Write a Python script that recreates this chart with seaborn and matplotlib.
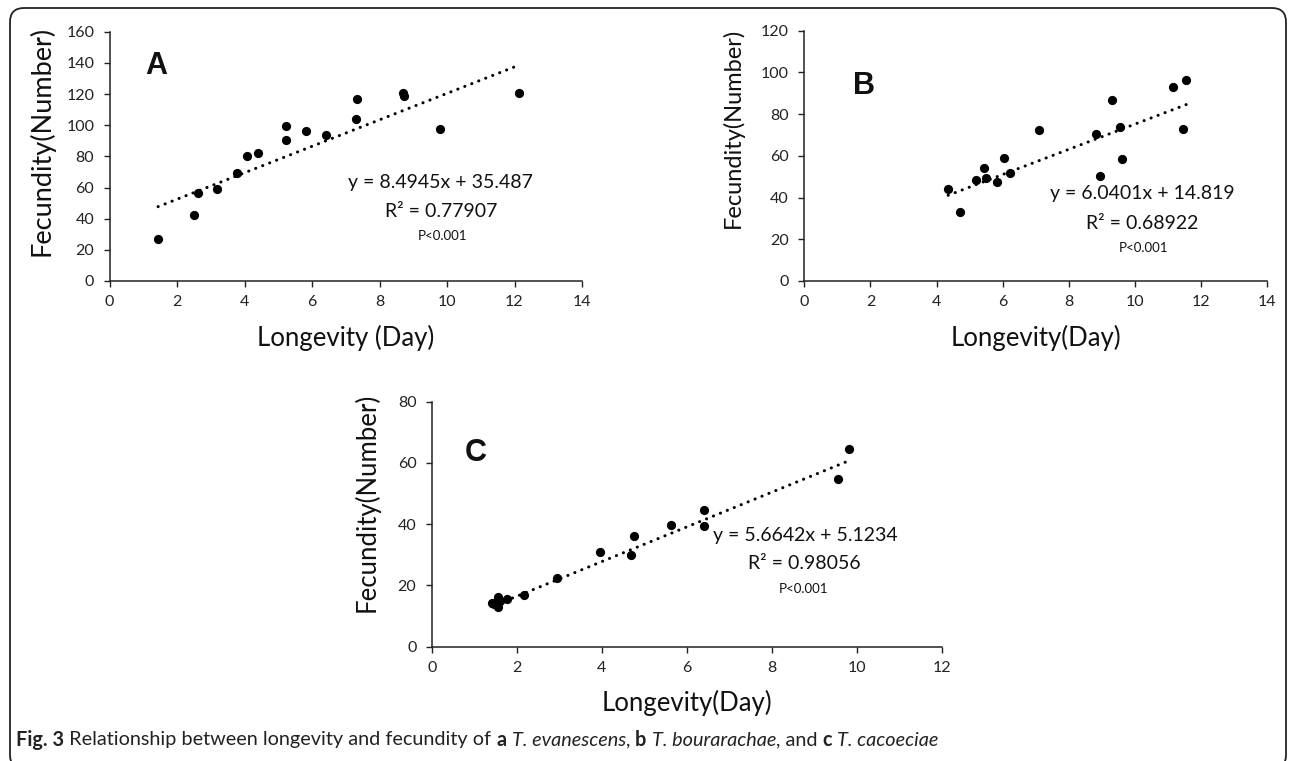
import numpy as np
import pandas as pd
import matplotlib
matplotlib.use("Agg")
import matplotlib.pyplot as plt
import seaborn as sns
from matplotlib.patches import FancyBboxPatch
from matplotlib.transforms import IdentityTransform

# ---------------- data ----------------
a_longevity = [1.44, 2.50, 2.62, 3.18, 3.77, 4.06, 4.41, 5.22, 5.22, 5.81, 6.40,
               7.30, 7.34, 8.69, 8.74, 9.80, 12.14]
a_fecundity = [26.8, 42.4, 56.5, 58.8, 69.1, 80.2, 82.0, 99.5, 90.3, 96.1, 93.9,
               104.2, 117.0, 120.9, 119.0, 97.8, 120.9]
a_slope, a_intercept = 8.4945, 35.487

b_longevity = [4.35, 4.71, 5.18, 5.44, 5.49, 5.84, 6.05, 6.22, 7.09, 8.82, 8.95,
               9.30, 9.56, 9.60, 11.16, 11.46, 11.55]
b_fecundity = [44.1, 32.9, 48.3, 54.3, 49.5, 47.5, 59.1, 51.6, 72.4, 70.3, 50.3,
               86.8, 73.7, 58.5, 92.9, 72.9, 96.4]
b_slope, b_intercept = 6.0401, 14.819

c_longevity = [1.41, 1.47, 1.51, 1.55, 1.55, 1.61, 1.76, 2.17, 2.94, 3.95, 4.70,
               4.77, 5.62, 6.41, 6.41, 9.56, 9.83]
c_fecundity = [14.2, 14.0, 14.4, 16.1, 13.1, 15.0, 15.6, 17.0, 22.5, 30.9, 29.9,
               36.1, 39.8, 44.5, 39.3, 54.9, 64.7]
c_slope, c_intercept = 5.6642, 5.1234

panel_letters = ["A", "B", "C"]
equations = ["y = 8.4945x + 35.487", "y = 6.0401x + 14.819", "y = 5.6642x + 5.1234"]
r2_texts = ["R² = 0.77907", "R² = 0.68922", "R² = 0.98056"]
p_text = "P<0.001"
x_labels = ["Longevity (Day)", "Longevity(Day)", "Longevity(Day)"]
y_label = "Fecundity(Number)"
x_max = [14, 14, 12]
y_max = [160, 120, 80]

caption_parts = [("Fig. 3", "bold", "normal"),
                 (" Relationship between longevity and fecundity of ", "normal", "normal"),
                 ("a", "bold", "normal"), (" ", "normal", "normal"),
                 ("T. evanescens", "normal", "italic"), (", ", "normal", "normal"),
                 ("b", "bold", "normal"), (" ", "normal", "normal"),
                 ("T. bourarachae", "normal", "italic"), (", and ", "normal", "normal"),
                 ("c", "bold", "normal"), (" ", "normal", "normal"),
                 ("T. cacoeciae", "normal", "italic")]

# ---------------- style ----------------
sns.set_theme(style="ticks")
plt.rcParams["font.family"] = ["Lato", "DejaVu Sans"]

W, H = 1295, 761
fig = plt.figure(figsize=(W / 100, H / 100), dpi=100)

# axes rectangles in pixels: left, right, top, bottom
rects = [(109.5, 582.0, 31.7, 281.0),
         (804.3, 1267.3, 30.7, 281.0),
         (431.7, 941.7, 401.7, 646.7)]

panels = [(a_longevity, a_fecundity, a_slope, a_intercept),
          (b_longevity, b_fecundity, b_slope, b_intercept),
          (c_longevity, c_fecundity, c_slope, c_intercept)]

letter_pos = [(0.098, 0.862), (0.130, 0.779), (0.087, 0.789)]
eq_pos = [(0.701, 0.396), (0.730, 0.348), (0.732, 0.453)]
r2_pos = [(0.703, 0.278), (0.730, 0.230), (0.730, 0.338)]
p_pos = [(0.704, 0.180), (0.732, 0.131), (0.729, 0.234)]
ylab_pos = [(-0.145, 0.56), (-0.155, 0.61), (-0.127, 0.589)]
ylab_size = [19.5, 17, 18.5]
xlab_y = [-0.229, -0.229, -0.230]

for i, (xs, ys, slope, icpt) in enumerate(panels):
    l, r, t, b = rects[i]
    ax = fig.add_axes([l / W, 1 - b / H, (r - l) / W, (b - t) / H])
    df = pd.DataFrame({"Longevity": xs, "Fecundity": ys})
    # trend line from the reported regression equation
    xl = np.array([min(xs), max(xs)])
    line_df = pd.DataFrame({"Longevity": xl, "Fecundity": slope * xl + icpt})
    sns.lineplot(data=line_df, x="Longevity", y="Fecundity", ax=ax, color="black",
                 linewidth=2.2, linestyle=(0, (0.05, 2.4)), dash_capstyle="round")
    sns.scatterplot(data=df, x="Longevity", y="Fecundity", ax=ax, color="black",
                    s=44, linewidth=0, zorder=3)
    ax.set_xlim(0, x_max[i])
    ax.set_ylim(0, y_max[i])
    ax.set_xticks(np.arange(0, x_max[i] + 1, 2))
    ax.set_yticks(np.arange(0, y_max[i] + 1, 20))
    sns.despine(ax=ax)
    for sp in ["left", "bottom"]:
        ax.spines[sp].set_color("#222222")
        ax.spines[sp].set_linewidth(1.1)
    ax.tick_params(axis="both", direction="out", length=4, width=1.0,
                   color="#222222", labelsize=11.5, labelcolor="#222222")
    ax.tick_params(axis="x", pad=6)
    ax.tick_params(axis="y", pad=7)
    ax.set_xlabel(x_labels[i], fontsize=18.5, color="#111111", va="center")
    ax.xaxis.set_label_coords(0.5, xlab_y[i])
    ax.set_ylabel(y_label, fontsize=ylab_size[i], color="#111111", va="center")
    ax.yaxis.set_label_coords(*ylab_pos[i])
    ax.text(*letter_pos[i], panel_letters[i], transform=ax.transAxes,
            fontsize=22, fontweight="bold", family=["Liberation Sans", "DejaVu Sans"],
            ha="center", va="center", color="#111111")
    ax.text(*eq_pos[i], equations[i], transform=ax.transAxes, fontsize=14,
            ha="center", va="center", color="#111111")
    ax.text(*r2_pos[i], r2_texts[i], transform=ax.transAxes, fontsize=14,
            ha="center", va="center", color="#111111")
    ax.text(*p_pos[i], p_text, transform=ax.transAxes, fontsize=9.5,
            ha="center", va="center", color="#111111")

# rounded frame around the figure (bottom edge just below the image)
frame = FancyBboxPatch((10, -8), 1276, 761 - 8 + 8, boxstyle="round,pad=0,rounding_size=14",
                       transform=IdentityTransform(), fill=False, edgecolor="#222222",
                       linewidth=1.3)
fig.patches.append(frame)

# caption
fig.canvas.draw()
renderer = fig.canvas.get_renderer()
x_px = 16.0
y_frac = 1 - 740 / H
for text, weight, style in caption_parts:
    t = fig.text(x_px / W, y_frac, text, fontsize=14.3, fontweight=weight,
                 fontstyle=style, ha="left", va="center", color="#222222")
    bb = t.get_window_extent(renderer=renderer)
    x_px += bb.width

fig.savefig("out.png", dpi=100)
